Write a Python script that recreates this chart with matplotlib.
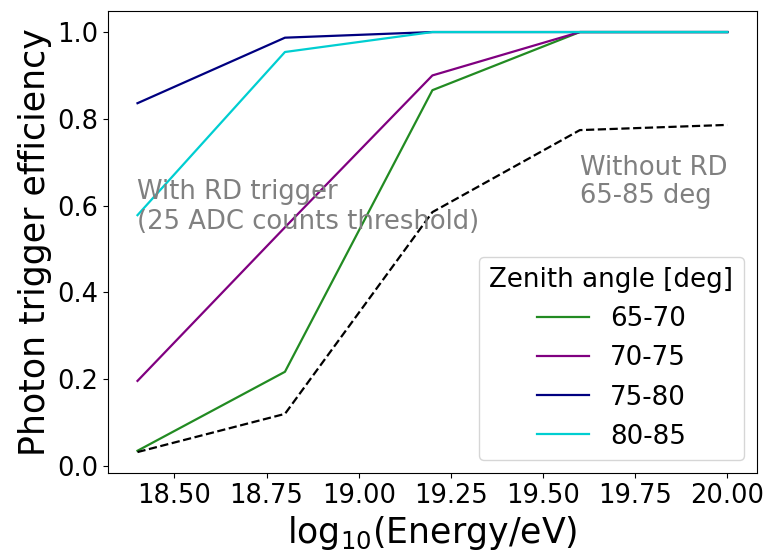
import numpy as np
import matplotlib
matplotlib.use("Agg")
import matplotlib.pyplot as plt

plt.rcParams['font.family'] = 'DejaVu Sans'

# log10(E/eV) bins
energy = [18.4, 18.8, 19.2, 19.6, 20.0]

# photon trigger efficiency with RD trigger, per zenith band
eff_65_70 = [0.035, 0.217, 0.866, 1.0, 1.0]
eff_70_75 = [0.196, 0.550, 0.900, 1.0, 1.0]
eff_75_80 = [0.836, 0.987, 1.0, 1.0, 1.0]
eff_80_85 = [0.578, 0.954, 1.0, 1.0, 1.0]

# without RD trigger, all zenith 65-85
eff_no_rd = [0.032, 0.120, 0.585, 0.774, 0.786]

zenith_labels = ["65-70", "70-75", "75-80", "80-85"]
colors = ["forestgreen", "purple", "navy", "darkturquoise"]

fig, ax = plt.subplots(figsize=(7.66, 5.52), dpi=100)
fig.subplots_adjust(left=0.141, right=0.988, top=0.980, bottom=0.143)

for vals, lab, c in zip([eff_65_70, eff_70_75, eff_75_80, eff_80_85], zenith_labels, colors):
    ax.plot(energy, vals, color=c, linewidth=1.6, label=lab)

ax.plot(energy, eff_no_rd, color="black", linestyle="--", linewidth=1.6)

ax.text(18.4, 0.546, "With RD trigger\n(25 ADC counts threshold)", color="gray",
        fontsize=18.6, ha="left", va="baseline")
ax.text(19.6, 0.606, "Without RD\n65-85 deg", color="gray",
        fontsize=18.6, ha="left", va="baseline", linespacing=1.1)

ax.set_xlabel("log$_{10}$(Energy/eV)", fontsize=25)
ax.set_ylabel("Photon trigger efficiency", fontsize=25)
ax.tick_params(labelsize=18.5)
ax.set_xticks([18.5, 18.75, 19.0, 19.25, 19.5, 19.75, 20.0])
ax.set_xticklabels(["18.50", "18.75", "19.00", "19.25", "19.50", "19.75", "20.00"])

ax.legend(title="Zenith angle [deg]", fontsize=18.8, title_fontsize=18.8, loc="lower right")

fig.savefig("out.png", dpi=100)
